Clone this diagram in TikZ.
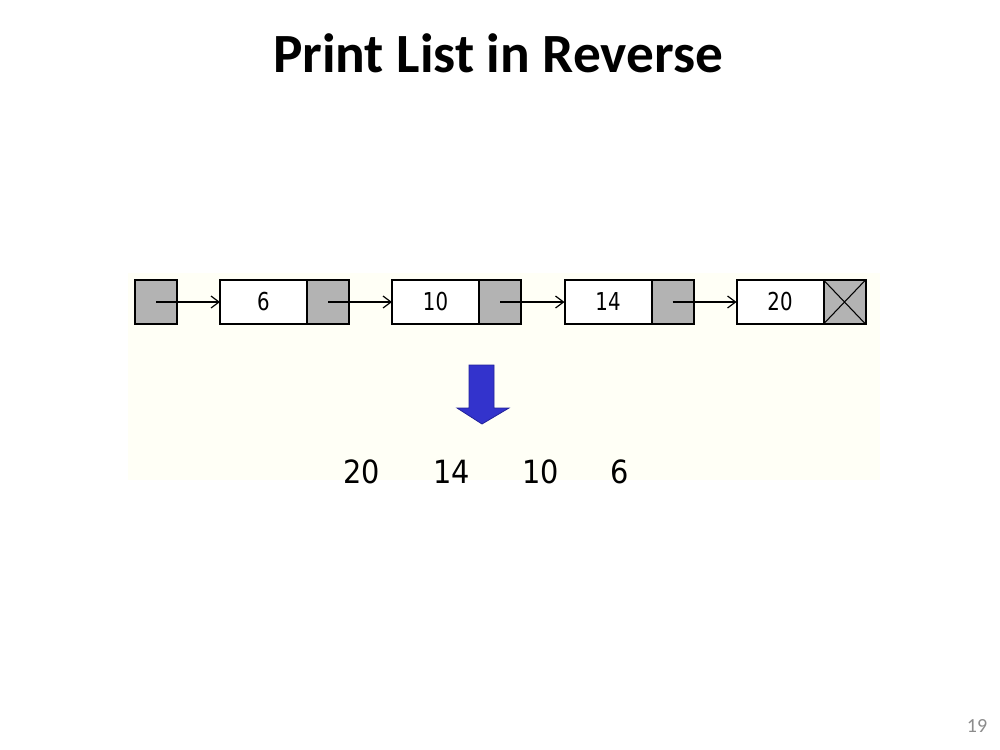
\documentclass[tikz,border=0pt]{standalone}
\usepackage{fontspec}
\setmainfont{DejaVu Sans}
\newfontfamily\titlefont{Carlito}
\newfontfamily\listfont[FakeStretch=0.8]{DejaVu Sans}
\newfontfamily\outfont[FakeStretch=0.9]{DejaVu Sans}
\usetikzlibrary{arrows.meta}
\definecolor{cellgray}{HTML}{B3B3B3}
\definecolor{panel}{HTML}{FFFFF6}
\definecolor{bluearrow}{HTML}{3333CC}
\definecolor{bluedark}{HTML}{22229A}
\definecolor{pagegray}{HTML}{8C8C8C}
\tikzset{
  cell/.style={draw=black, line width=1.5pt, minimum height=33pt, inner sep=0pt, outer sep=0pt, anchor=center},
  datacell/.style={cell, fill=white, minimum width=65.25pt, font=\listfont\fontsize{18.5pt}{21pt}\selectfont},
  ptrcell/.style={cell, fill=cellgray, minimum width=31.5pt},
  link/.style={line width=0.9pt, -{Straight Barb[length=6pt,width=9pt,line width=0.9pt]}},
  outnum/.style={anchor=base, inner sep=0pt, font=\outfont\fontsize{24pt}{28pt}\selectfont},
}
\begin{document}
\begin{tikzpicture}[x=0.75pt, y=-0.75pt]
\useasboundingbox (0,0) rectangle (1000,750);
\fill[white] (0,0) rectangle (1000,750);
\fill[panel] (128,273) rectangle (880,480);
% title
\node[anchor=base, inner sep=0pt, font=\titlefont\bfseries\fontsize{41.5pt}{46pt}\selectfont] (title) at (498,72) {Print List in Reverse};
% list
\node[ptrcell] (head) at (156,302) {};
\node[datacell] (d1) at (263.5,302) {6};
\node[ptrcell] (p1) at (328,302) {};
\node[datacell] (d2) at (435.5,302) {10};
\node[ptrcell] (p2) at (500,302) {};
\node[datacell] (d3) at (608,302) {14};
\node[ptrcell] (p3) at (672.5,302) {};
\node[datacell] (d4) at (780,302) {20};
\node[ptrcell] (p4) at (844.5,302) {};
\draw[line width=0.8pt] (p4.north west) -- (p4.south east);
\draw[line width=0.8pt] (p4.south west) -- (p4.north east);
\draw[link] (head.center) -- (d1.west);
\draw[link] (p1.center) -- (d2.west);
\draw[link] (p2.center) -- (d3.west);
\draw[link] (p3.center) -- (d4.west);
% block arrow
\draw[fill=bluearrow, draw=bluedark, line width=0.6pt, line join=miter]
  (469,365) -- (494,365) -- (494,408) -- (509,408) -- (482,424) -- (457,408) -- (469,408) -- cycle;
% output
\node[outnum] (o1) at (362,483) {20};
\node[outnum] (o2) at (452,483) {14};
\node[outnum] (o3) at (541,483) {10};
\node[outnum] (o4) at (620,483) {6};
% page number
\node[anchor=base, inner sep=0pt, text=pagegray, font=\titlefont\fontsize{15pt}{18pt}\selectfont] (pg) at (977,732) {19};
\end{tikzpicture}
\end{document}
